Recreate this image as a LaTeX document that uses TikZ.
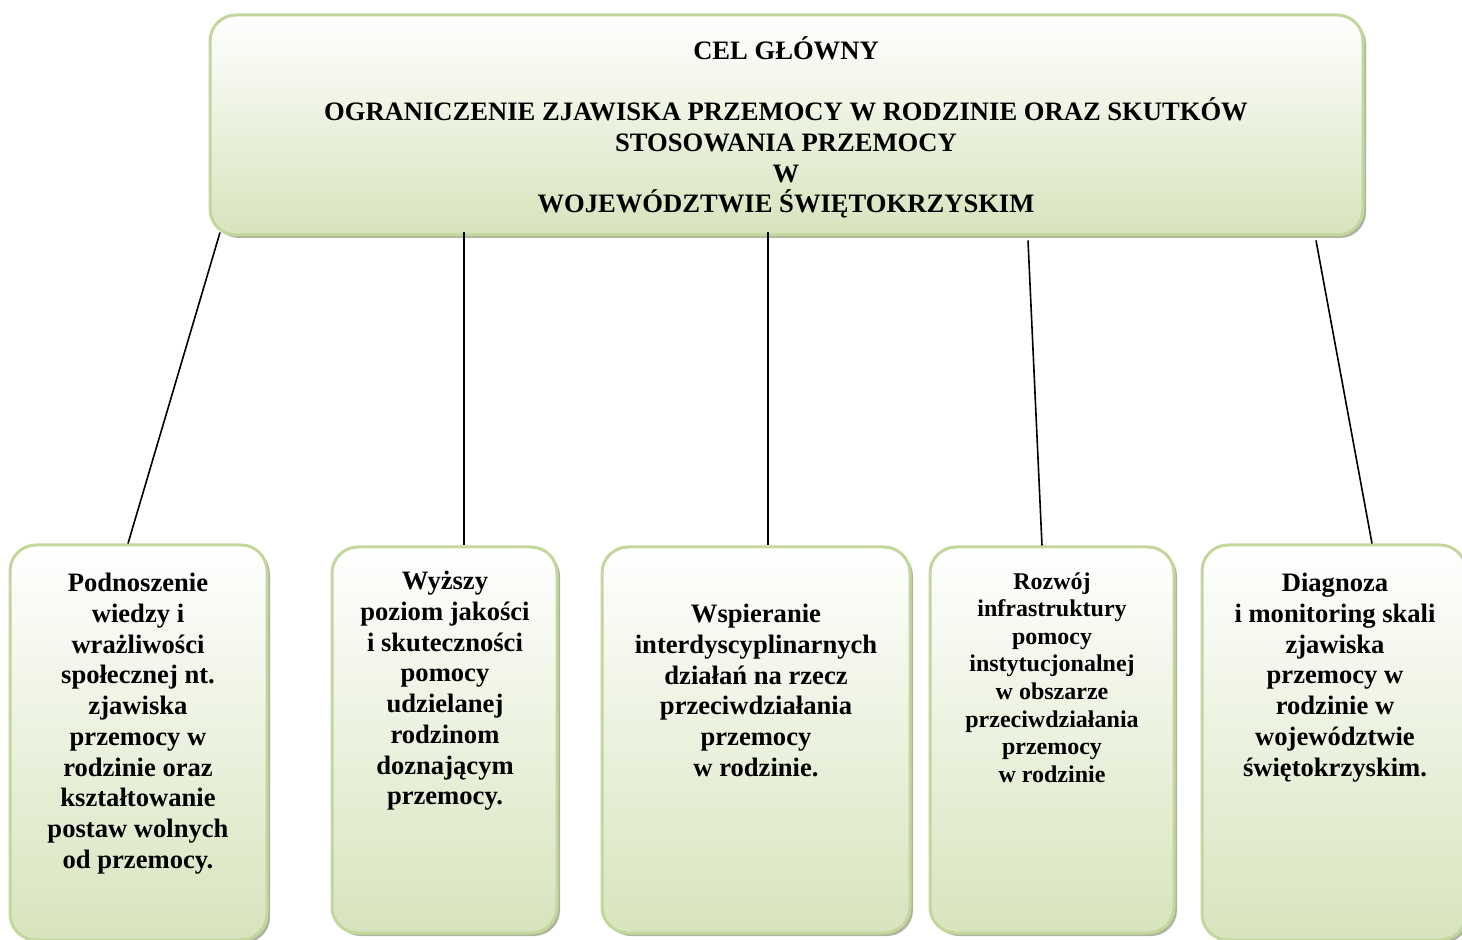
\documentclass[tikz,border=0pt]{standalone}
\usepackage{fontspec}
\setmainfont{Liberation Serif}
\usetikzlibrary{shadows}
\definecolor{boxGreen}{HTML}{D7E4BD}
\definecolor{edgeGreen}{HTML}{C3D69B}
\definecolor{shadowGray}{HTML}{A3AC93}

\begin{document}
\begin{tikzpicture}[x=0.5pt, y=-0.5pt,
    box/.style={draw=edgeGreen, line width=1.5pt, rounded corners=13pt, top color=white, bottom color=boxGreen,
      drop shadow={shadow xshift=1.5pt, shadow yshift=-1.5pt, fill=shadowGray, opacity=0.9}, inner sep=0pt},
    txt/.style={anchor=north, align=center, inner sep=0pt, font=\bfseries\fontsize{13.3}{15.35}\selectfont},
    smalltxt/.style={txt, font=\bfseries\fontsize{12}{13.8}\selectfont},
    link/.style={line width=0.8pt}
  ]
    \useasboundingbox (0,0) rectangle (1462,940);
    % boxes
    \node[box, minimum width=576.5pt, minimum height=110pt] (T) at (786.5,125) {};
    \node[box, minimum width=128.5pt, minimum height=197.5pt] (B1) at (138.5,742.5) {};
    \node[box, minimum width=112.5pt, minimum height=193pt] (B2) at (444.5,740) {};
    \node[box, minimum width=154pt, minimum height=193pt] (B3) at (756,740) {};
    \node[box, minimum width=122pt, minimum height=193pt] (B4) at (1052,740) {};
    \node[box, minimum width=132pt, minimum height=197.5pt] (B5) at (1334,742.5) {};
    % texts
    \node[txt] (tT) at (786,36) {CEL GŁÓWNY\\[15.35pt]
      OGRANICZENIE ZJAWISKA PRZEMOCY W RODZINIE ORAZ SKUTKÓW\\
      STOSOWANIA PRZEMOCY\\ W\\ WOJEWÓDZTWIE ŚWIĘTOKRZYSKIM};
    \node[txt] (t1) at (138,573) {Podnoszenie\\ wiedzy i\\ wrażliwości\\ społecznej nt.\\ zjawiska\\
      przemocy w\\ rodzinie oraz\\ kształtowanie\\ postaw wolnych\\ od przemocy.};
    \node[txt] (t2) at (445,571) {Wyższy\\ poziom jakości\\ i skuteczności\\ pomocy\\ udzielanej\\
      rodzinom\\ doznającym\\ przemocy.};
    \node[txt] (t3) at (756,604) {Wspieranie\\ interdyscyplinarnych\\ działań na rzecz\\
      przeciwdziałania\\ przemocy\\ w rodzinie.};
    \node[smalltxt] (t4) at (1052,572) {Rozwój\\ infrastruktury\\ pomocy\\ instytucjonalnej\\
      w obszarze\\ przeciwdziałania\\ przemocy\\ w rodzinie};
    \node[txt] (t5) at (1335,573) {Diagnoza\\ i monitoring skali\\ zjawiska\\ przemocy w\\
      rodzinie w\\ województwie\\ świętokrzyskim.};
    % links
    \draw[link] ([xshift=5.75pt, yshift=2pt]T.south west) -- ([xshift=-5.25pt]B1.north);
    \draw[link] ([xshift=127.75pt, yshift=2pt]T.south west) -- ([xshift=9.75pt]B2.north);
    \draw[link] ([xshift=279.75pt, yshift=2pt]T.south west) -- ([xshift=6pt]B3.north);
    \draw[link] ([xshift=409.75pt, yshift=-2pt]T.south west) -- ([xshift=-5pt]B4.north);
    \draw[link] ([xshift=553.75pt, yshift=-2pt]T.south west) -- ([xshift=19pt]B5.north);
  \end{tikzpicture}
\end{document}
